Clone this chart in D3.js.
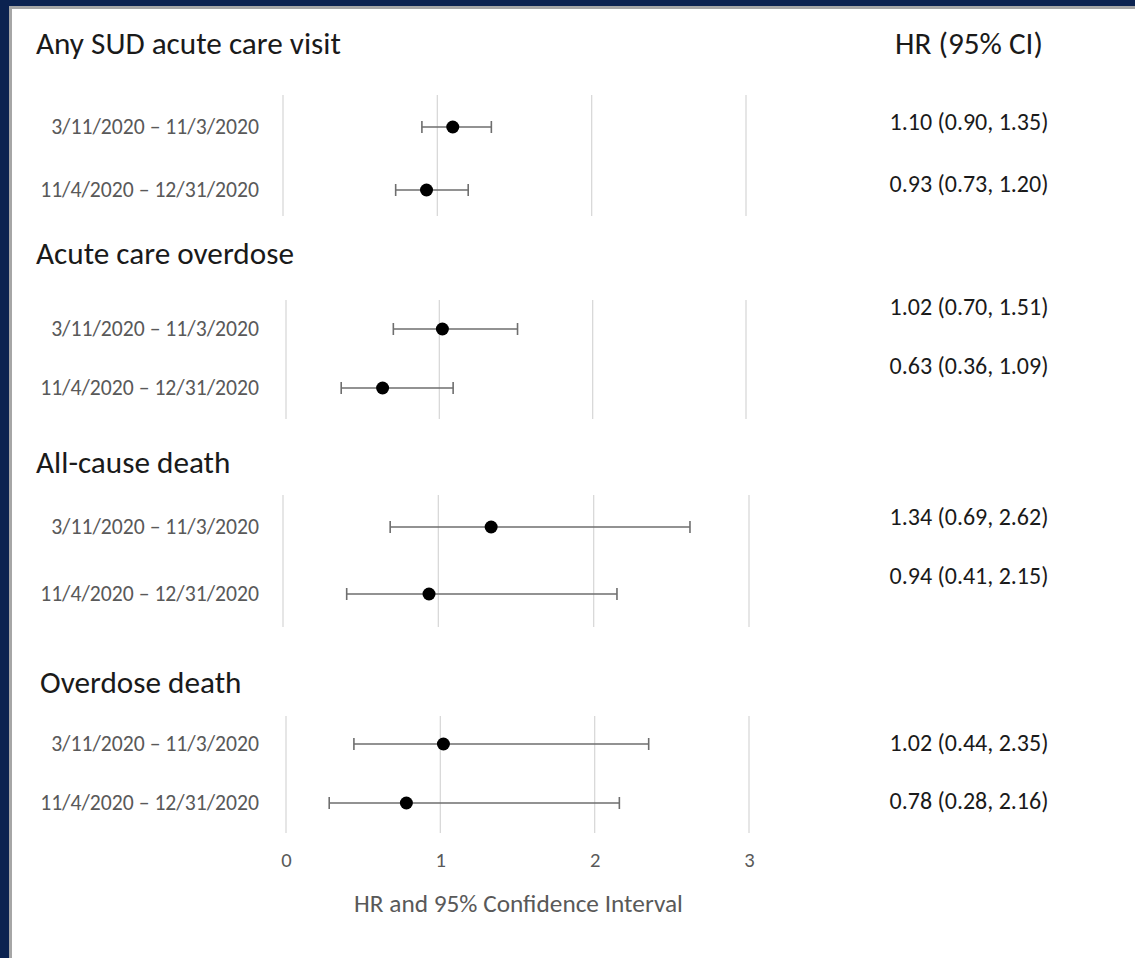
<!DOCTYPE html>
<html>
<head>
<meta charset="utf-8">
<script src="https://cdn.jsdelivr.net/npm/d3@7"></script>
<style>
  html, body { margin: 0; padding: 0; background: #fff; }
  svg { display: block; }
  text { font-family: Calibri, Carlito, "Open Sans", sans-serif; }
</style>
</head>
<body>
<svg id="chart" width="1135" height="958"></svg>
<script>
// ---- data ----
const outcomes = ["Any SUD acute care visit", "Acute care overdose", "All-cause death", "Overdose death"];
const periods = ["3/11/2020 \u2013 11/3/2020", "11/4/2020 \u2013 12/31/2020"];
const hrValues = [[1.10, 0.93], [1.02, 0.63], [1.34, 0.94], [1.02, 0.78]];
const lowerCI = [[0.90, 0.73], [0.70, 0.36], [0.69, 0.41], [0.44, 0.28]];
const upperCI = [[1.35, 1.20], [1.51, 1.09], [2.62, 2.15], [2.35, 2.16]];
const hrLabels = [
  ["1.10 (0.90, 1.35)", "0.93 (0.73, 1.20)"],
  ["1.02 (0.70, 1.51)", "0.63 (0.36, 1.09)"],
  ["1.34 (0.69, 2.62)", "0.94 (0.41, 2.15)"],
  ["1.02 (0.44, 2.35)", "0.78 (0.28, 2.16)"]
];
const xTicks = [0, 1, 2, 3];
const xDomain = [0, 3];
const headerLabel = "HR (95% CI)";
const axisTitle = "HR and 95% Confidence Interval";

// ---- layout (positions only) ----
const panels = [
  { titleX: 36, titleY: 54, xr: [283, 746], gy: [95, 216], rows: [127, 190], hrY: [130, 192] },
  { titleX: 36, titleY: 264, xr: [286, 746], gy: [300, 419], rows: [329, 388], hrY: [315, 374] },
  { titleX: 36, titleY: 473, xr: [283, 749], gy: [495, 627], rows: [527, 594], hrY: [525, 584] },
  { titleX: 40, titleY: 693, xr: [286, 749], gy: [716, 833], rows: [744, 803], hrY: [751, 809] }
];

const svg = d3.select("#chart");

// fit a class of texts so that a sample string spans the target width
function fitSize(sample, target, base) {
  const t = svg.append("text").attr("font-size", base).text(sample);
  const w = t.node().getComputedTextLength();
  t.remove();
  return base * target / w;
}
const fsTitle = fitSize(outcomes[0], 305, 24);
const fsHeader = fitSize(headerLabel, 148, 24);
const fsHR = fitSize(hrLabels[0][0], 159, 18);
const fsRow = fitSize(periods[0], 208, 18);
const fsAxis = fitSize(axisTitle, 329, 18);
const fsTick = fsRow * 0.95;

// frame
svg.append("rect").attr("x", 0).attr("y", 0).attr("width", 1135).attr("height", 958).attr("fill", "#0b2250");
svg.append("rect").attr("x", 9).attr("y", 6).attr("width", 1135).attr("height", 958).attr("fill", "#a6a6a6");
svg.append("rect").attr("x", 12).attr("y", 9).attr("width", 1135).attr("height", 958).attr("fill", "#ffffff");

// header
svg.append("text").attr("x", 969).attr("y", 54).attr("text-anchor", "middle")
  .attr("font-size", fsHeader).attr("fill", "#1a1a1a").text(headerLabel);

outcomes.forEach((name, i) => {
  const p = panels[i];
  const x = d3.scaleLinear().domain(xDomain).range(p.xr);
  const y = d3.scalePoint().domain(periods).range(p.rows);
  const g = svg.append("g");

  g.append("text").attr("x", p.titleX).attr("y", p.titleY)
    .attr("font-size", fsTitle).attr("fill", "#1a1a1a").text(name);

  // gridlines
  g.selectAll("line.grid").data(xTicks).join("line").attr("class", "grid")
    .attr("x1", d => x(d)).attr("x2", d => x(d))
    .attr("y1", p.gy[0]).attr("y2", p.gy[1])
    .attr("stroke", "#d9d9d9").attr("stroke-width", 1.3);

  // row labels
  g.selectAll("text.row").data(periods).join("text").attr("class", "row")
    .attr("x", 259).attr("y", d => y(d) + 6.5)
    .attr("text-anchor", "end").attr("font-size", fsRow).attr("fill", "#595959")
    .text(d => d);

  const rows = periods.map((per, j) => ({ per, hr: hrValues[i][j], lo: lowerCI[i][j], hi: upperCI[i][j], lab: hrLabels[i][j], hy: p.hrY[j] }));

  // CI lines
  g.selectAll("line.ci").data(rows).join("line").attr("class", "ci")
    .attr("x1", d => x(d.lo)).attr("x2", d => x(d.hi))
    .attr("y1", d => y(d.per)).attr("y2", d => y(d.per))
    .attr("stroke", "#6e6e6e").attr("stroke-width", 1.6);
  ["lo", "hi"].forEach(k => {
    g.selectAll("line.cap" + k).data(rows).join("line").attr("class", "cap" + k)
      .attr("x1", d => x(d[k])).attr("x2", d => x(d[k]))
      .attr("y1", d => y(d.per) - 6).attr("y2", d => y(d.per) + 6)
      .attr("stroke", "#6e6e6e").attr("stroke-width", 1.6);
  });
  g.selectAll("circle.pt").data(rows).join("circle").attr("class", "pt")
    .attr("cx", d => x(d.hr)).attr("cy", d => y(d.per)).attr("r", 6.5)
    .attr("fill", "#000");

  // HR text
  g.selectAll("text.hr").data(rows).join("text").attr("class", "hr")
    .attr("x", 969).attr("y", d => d.hy).attr("text-anchor", "middle")
    .attr("font-size", fsHR).attr("fill", "#1a1a1a").text(d => d.lab);

  if (i === outcomes.length - 1) {
    const axis = d3.axisBottom(x).tickValues(xTicks).tickSize(0).tickPadding(0).tickFormat(d3.format("d"));
    const ax = g.append("g").attr("transform", `translate(0, ${p.gy[1] + 34})`).call(axis);
    ax.attr("font-size", null).attr("font-family", null);
    ax.select(".domain").remove();
    ax.selectAll("text").style("font-size", fsTick + "px").attr("fill", "#595959").attr("dy", 0);
    g.append("text").attr("x", (p.xr[0] + p.xr[1]) / 2 + 1).attr("y", 912)
      .attr("text-anchor", "middle").attr("font-size", fsAxis).attr("fill", "#595959").text(axisTitle);
  }
});
</script>
</body>
</html>
